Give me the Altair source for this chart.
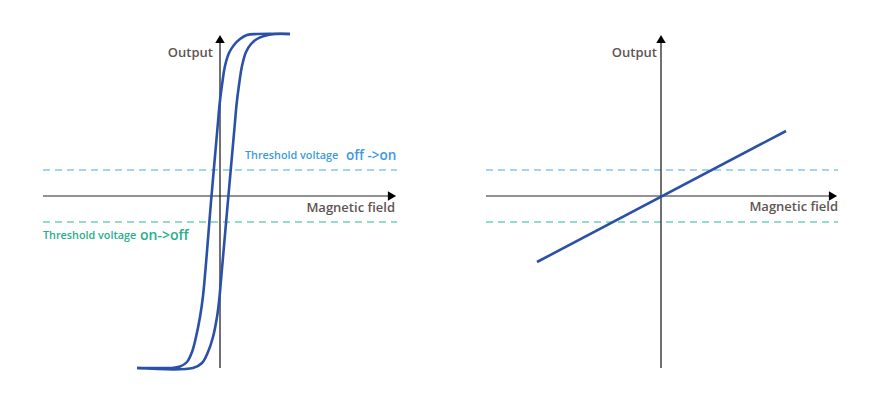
import altair as alt
import pandas as pd

# ---------------- data (field, output units; origin = axes crossing) ----------------
# Left panel: hysteresis loop, two branches
left_branch_x = [-83, -60, -48, -40, -33, -28, -24, -20, -17, -8.5, -2, -0.5, 2, 5, 9, 14, 20, 27, 37, 70]
left_branch_y = [-172, -172, -172, -170.5, -166, -156, -141, -121, -100, 0, 74, 91, 111, 130, 143, 151, 157, 161, 162, 162]
right_branch_x = [-83, -27, -18, -12, -7, -3, -0.5, 1, 8.4, 15, 16.5, 19, 22, 26, 31, 37, 44, 55, 70]
right_branch_y = [-172, -172, -167, -156, -141, -121, -101, -84, 0, 74, 91, 111, 130, 144, 152, 157, 160, 162, 162]
# Right panel: linear response
linear_x = [-124, 125]
linear_y = [-66, 65]
# threshold levels
thr_off_on = 26
thr_on_off = -26

BLUE = "#2a50a8"
THR_BLUE = "#85c6ec"
THR_GREEN = "#72d0bd"
TXT_BLUE = "#3b9ade"
TXT_GREEN = "#27ad8b"
LABEL = "#5e5553"
FONT = "Open Sans"

W, H = 432, 380


def panel(xdom, curves, ax_x0, ax_x1, labels):
    xs = alt.Scale(domain=xdom, nice=False, zero=False)
    ys = alt.Scale(domain=[-192, 188], nice=False, zero=False)
    X = lambda f: alt.X(f, type="quantitative", scale=xs, axis=None)
    Y = lambda f: alt.Y(f, type="quantitative", scale=ys, axis=None)

    layers = []
    thr = pd.DataFrame({"x0": [ax_x0, ax_x0], "x1": [177, 177],
                        "y": [thr_off_on, thr_on_off], "k": ["a", "b"]})
    layers.append(alt.Chart(thr).mark_rule(strokeDash=[7, 5], strokeWidth=1.5).encode(
        x=X("x0"), x2="x1", y=Y("y"),
        color=alt.Color("k:N", scale=alt.Scale(domain=["a", "b"], range=[THR_BLUE, THR_GREEN]), legend=None)))
    xax = pd.DataFrame({"x0": [ax_x0], "x1": [ax_x1], "y": [0]})
    layers.append(alt.Chart(xax).mark_rule(color="#6e6e6e", strokeWidth=1.5).encode(
        x=X("x0"), x2="x1", y=Y("y")))
    yax = pd.DataFrame({"x": [0], "y0": [-172], "y1": [155]})
    layers.append(alt.Chart(yax).mark_rule(color="#111111", strokeWidth=1.2).encode(
        x=X("x"), y=Y("y0"), y2="y1"))
    layers.append(alt.Chart(pd.DataFrame({"x": [ax_x1 + 2], "y": [0]})).mark_point(
        shape="triangle-right", filled=True, color="#000000", size=90, opacity=1).encode(x=X("x"), y=Y("y")))
    layers.append(alt.Chart(pd.DataFrame({"x": [0], "y": [157]})).mark_point(
        shape="triangle-up", filled=True, color="#000000", size=90, opacity=1).encode(x=X("x"), y=Y("y")))
    for cx, cy in curves:
        df = pd.DataFrame({"x": cx, "y": cy, "o": list(range(len(cx)))})
        layers.append(alt.Chart(df).mark_line(color=BLUE, strokeWidth=2.6, interpolate="catmull-rom").encode(
            x=X("x"), y=Y("y"), order="o:Q"))
    for (tx, ty, t, align, size, col, weight) in labels:
        df = pd.DataFrame({"x": [tx], "y": [ty], "t": [t]})
        layers.append(alt.Chart(df).mark_text(align=align, baseline="middle", font=FONT,
                                              fontSize=size, color=col, fontWeight=weight).encode(
            x=X("x"), y=Y("y"), text="t:N"))
    return alt.layer(*layers).properties(width=W, height=H)


left = panel(
    [-212, 220],
    [(left_branch_x, left_branch_y), (right_branch_x, right_branch_y)],
    -177, 170,
    [
        (-7, 143, "Output", "right", 13, LABEL, 600),
        (175, -12, "Magnetic field", "right", 13, LABEL, 600),
        (25, 40, "Threshold voltage", "left", 10.8, TXT_BLUE, 600),
        (126, 40, "off ->on", "left", 13.5, TXT_BLUE, 600),
        (-177, -40, "Threshold voltage", "left", 10.8, TXT_GREEN, 600),
        (-80, -40, "on->off", "left", 14, TXT_GREEN, 600),
    ],
)
right = panel(
    [-221, 211],
    [(linear_x, linear_y)],
    -175, 170,
    [
        (-4, 143, "Output", "right", 13, LABEL, 600),
        (177, -11, "Magnetic field", "right", 13, LABEL, 600),
    ],
)

chart = alt.hconcat(left, right, spacing=0).properties(padding=0).configure_view(stroke=None)
chart.save("out.html", embed_options={"renderer": "svg", "actions": False})
